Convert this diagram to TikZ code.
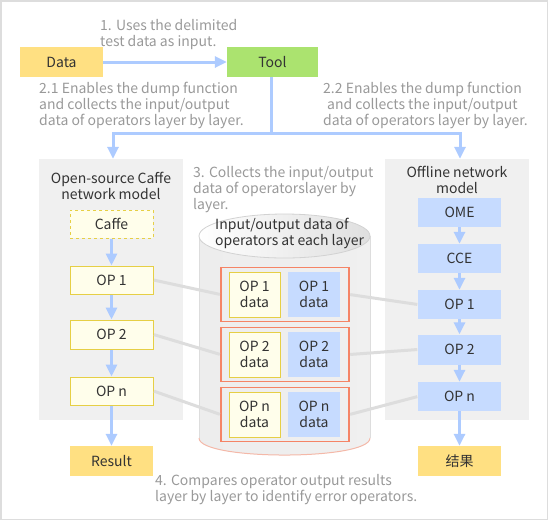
\documentclass[tikz,border=0pt]{standalone}
\usepackage{fontspec}
\setmainfont{Noto Sans CJK SC}
\usetikzlibrary{arrows.meta}
\definecolor{yfill}{HTML}{FFE082}
\definecolor{gfill}{HTML}{ABE36F}
\definecolor{bfill}{HTML}{C6DBFF}
\definecolor{arrowc}{HTML}{ADCBFF}
\definecolor{lyfill}{HTML}{FFFEEB}
\definecolor{lyline}{HTML}{E6CF45}
\definecolor{panelc}{HTML}{F0F0F0}
\definecolor{orangec}{HTML}{F58466}
\definecolor{pinkc}{HTML}{F4B8A8}
\definecolor{notec}{HTML}{999999}
\definecolor{darkc}{HTML}{333333}
\definecolor{connc}{HTML}{DDDDDD}
\definecolor{framec}{HTML}{DDDDDD}
\tikzset{
  base/.style={font=\fontsize{14}{16}\selectfont, text=darkc, inner sep=0pt, align=center},
  solidbox/.style={base, minimum width=83pt},
  ybox/.style={solidbox, fill=yfill},
  bbox/.style={solidbox, fill=bfill},
  opbox/.style={solidbox, fill=lyfill, draw=lyline, line width=1pt},
  note/.style={font=\fontsize{14}{16}\selectfont, text=notec, inner sep=0pt, align=left, anchor=north west},
  flow/.style={draw=arrowc, line width=3pt, -{Triangle[length=12pt,width=11pt]}},
  flowline/.style={draw=arrowc, line width=3pt},
  conn/.style={draw=connc, line width=3pt},
  grpbox/.style={draw=orangec, line width=1.2pt, minimum width=128pt, minimum height=54pt, inner sep=0pt},
  dy/.style={base, fill=lyfill, draw=lyline, line width=1pt, minimum width=51pt, minimum height=45pt},
  db/.style={base, fill=bfill, minimum width=52pt, minimum height=45pt},
}
\begin{document}
\begin{tikzpicture}[x=1pt,y=-1pt]
\useasboundingbox (0,0) rectangle (548,520);
\draw[framec, line width=1.5pt] (0.75,0.75) rectangle (547.25,519.25);

% panels
\node[fill=panelc, minimum width=144pt, minimum height=261pt, inner sep=0pt] (lpanel) at (111,289.5) {};
\node[fill=panelc, minimum width=144pt, minimum height=261pt, inner sep=0pt] (rpanel) at (457,289.5) {};
\node[base] (ltitle) at (111,186) {Open-source Caffe\\network model};
\node[base] (rtitle) at (457,180) {Offline network\\model};

% cylinder
\shade[left color=gray!14, middle color=white, right color=gray!12]
  (199,236) -- (199,438) .. controls (199,460.7) and (370,460.7) .. (370,438) -- (370,236) -- cycle;
\draw[connc, line width=1pt] (199,236) -- (199,438);
\draw[connc, line width=1pt] (370,236) -- (370,438);
\draw[pinkc, line width=1pt] (199,438) .. controls (199,460.7) and (370,460.7) .. (370,438);
\shade[left color=white, right color=gray!25, draw=gray!35, line width=0.8pt] (284.5,236) ellipse [x radius=85.5, y radius=22];
\node[base, align=left, anchor=north west] (cyltext) at (215,218) {Input/output data of\\operators at each layer};

% top nodes
\node[ybox, minimum height=30pt] (data) at (61.5,62) {Data};
\node[solidbox, fill=gfill, minimum width=91pt, minimum height=30pt] (tool) at (272.5,62) {Tool};

% left column
\node[opbox, dashed, minimum height=28pt] (caffe) at (111.5,224) {Caffe};
\node[opbox, minimum height=28pt] (lop1) at (111.5,280) {OP 1};
\node[opbox, minimum height=29pt] (lop2) at (111.5,334.5) {OP 2};
\node[opbox, minimum height=28pt] (lopn) at (111.5,391) {OP n};
\node[ybox, minimum height=30pt] (result) at (111.5,461) {Result};

% right column
\node[bbox, minimum height=29pt] (ome) at (459.5,212.5) {OME};
\node[bbox, minimum height=29pt] (cce) at (459.5,258.5) {CCE};
\node[bbox, minimum height=29pt] (rop1) at (459.5,304.5) {OP 1};
\node[bbox, minimum height=30pt] (rop2) at (459.5,349.5) {OP 2};
\node[bbox, minimum height=29pt] (ropn) at (459.5,396.5) {OP n};
\node[ybox, minimum height=30pt] (res2) at (459.5,461) {结果};

% groups
\node[grpbox] (g1) at (285,294.5) {};
\node[grpbox] (g2) at (285,354.5) {};
\node[grpbox] (g3) at (285,414.5) {};
\node[dy] (y1) at (254.5,294.5) {OP 1\\data};
\node[db] (b1) at (314,294.5) {OP 1\\data};
\node[dy] (y2) at (254.5,354.5) {OP 2\\data};
\node[db] (b2) at (314,354.5) {OP 2\\data};
\node[dy] (y3) at (254.5,414.5) {OP n\\data};
\node[db] (b3) at (314,414.5) {OP n\\data};

% connectors
\draw[conn, shorten <=0.5pt, shorten >=0.6pt] (lop1.east) -- (g1.west);
\draw[conn, shorten <=0.5pt, shorten >=0.6pt] (lop2.east) -- (g2.west);
\draw[conn, shorten <=0.5pt, shorten >=0.6pt] (lopn.east) -- (g3.west);
\draw[conn, shorten <=0.6pt, shorten >=0.5pt] (g1.east) -- (rop1.west);
\draw[conn, shorten <=0.6pt, shorten >=0.5pt] (g2.east) -- (rop2.west);
\draw[conn, shorten <=0.6pt, shorten >=0.5pt] (g3.east) -- (ropn.west);

% flow arrows
\coordinate (junc) at (271,133);
\draw[flow] (data) -- (tool);
\draw[flowline] (tool.south -| junc) -- (junc);
\draw[flow] ([xshift=1.5pt]junc) -| (lpanel.north -| 113,0);
\draw[flow] ([xshift=-1.5pt]junc) -| (rpanel.north -| 460,0);
\draw[flow] (caffe) -- (lop1);
\draw[flow] (lop1) -- (lop2);
\draw[flow] (lop2) -- (lopn);
\draw[flow] (lopn) -- (result);
\draw[flow] (ome) -- (cce);
\draw[flow] (cce) -- (rop1);
\draw[flow] (rop1) -- (rop2);
\draw[flow] (rop2) -- (ropn);
\draw[flow] (ropn) -- (res2);

% notes
\node[note] (n1) at (100,19.5) {1. Uses the delimited\\test data as input.};
\node[note] (n21) at (39,82) {2.1 Enables the dump function\\and collects the input/output\\data of operators layer by layer.};
\node[note] (n22) at (323,82) {2.2 Enables the dump function\\\hspace*{4pt}and collects the input/output\\data of operators layer by layer.};
\node[note] (n3) at (193,166) {3. Collects the input/output\\data of operatorslayer by\\layer.};
\node[note] (n4) at (155,474.5) {4. Compares operator output results\\layer by layer to identify error operators.};
\end{tikzpicture}
\end{document}
